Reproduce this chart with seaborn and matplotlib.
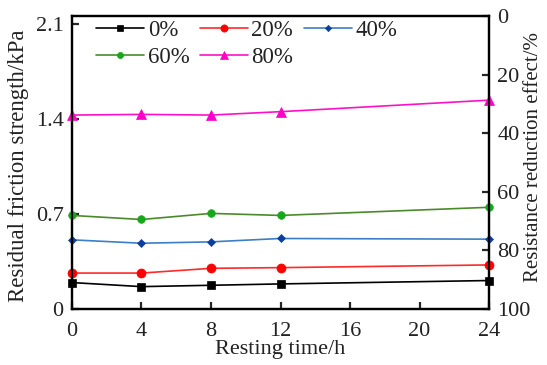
import numpy as np
import pandas as pd
import seaborn as sns
import matplotlib
matplotlib.use('Agg')
import matplotlib.pyplot as plt

# resting time (h) and residual friction strength (kPa) per content level
hours = [0, 4, 8, 12, 24]
s0 = [0.195, 0.165, 0.175, 0.185, 0.21]
s20 = [0.265, 0.265, 0.30, 0.305, 0.325]
s40 = [0.51, 0.485, 0.495, 0.52, 0.515]
s60 = [0.69, 0.66, 0.705, 0.69, 0.75]
s80 = [1.43, 1.435, 1.43, 1.455, 1.54]
labels = ['0%', '20%', '40%', '60%', '80%']

xticks = [0, 4, 8, 12, 16, 20, 24]
yticks = [0, 0.7, 1.4, 2.1]
rticks = [0, 20, 40, 60, 80, 100]

sns.set_theme(style='ticks')
plt.rcParams['font.family'] = ['Liberation Serif', 'DejaVu Serif']
plt.rcParams['font.size'] = 16

fig = plt.figure(figsize=(5.47, 3.65), dpi=100)
ax = fig.add_axes([0.1316, 0.1534, 0.7624, 0.8026])

# (values, line colour, marker, marker colour, marker size)
styles = [
    (s0, 'black', 's', 'black', 6),
    (s20, '#ff2a2a', 'o', '#ff0000', 6.5),
    (s40, '#3d7fc6', 'D', '#0b3f9c', 4),
    (s60, '#4b8a2c', 'o', '#16a81a', 5.5),
    (s80, '#ff10c8', '^', '#ff00c8', 6.5),
]

handles = []
for (vals, lc, mk, mc, ms), lab in zip(styles, labels):
    df = pd.DataFrame({'t': hours, 'v': vals})
    sns.lineplot(data=df, x='t', y='v', ax=ax, color=lc, marker=mk,
                 markersize=ms, markeredgecolor=mc, markeredgewidth=0.5,
                 linewidth=1.2, label=lab, clip_on=False, zorder=3)
    line = ax.lines[-1]
    line.set_markerfacecolor(mc)
    handles.append(line)

ax.set_xlim(0, 24)
ax.set_ylim(0, 2.16)
ax.set_xticks(xticks)
ax.set_yticks(yticks)
ax.set_yticklabels(['0', '0.7', '1.4', '2.1'])
ax.set_xlabel('Resting time/h', fontsize=16, color='#222222')
ax.set_ylabel('Residual friction strength/kPa', fontsize=16.4, color='#222222')
ax.xaxis.set_label_coords(0.5, -0.105)
ax.yaxis.set_label_coords(-0.104, 0.49)

ax2 = ax.twinx()
ax2.set_position(ax.get_position())
ax2.set_ylim(100, 0)
ax2.set_yticks(rticks)
ax2.set_ylabel('Resistance reduction effect/%', fontsize=15, color='#222222')
ax2.yaxis.set_label_coords(1.084, 0.52)

for a in (ax, ax2):
    for sp in a.spines.values():
        sp.set_linewidth(1.6)
        sp.set_color('black')
    a.tick_params(direction='in', length=5, width=1.6, labelsize=16,
                  labelcolor='#222222', pad=6)
ax.tick_params(axis='x', pad=9)
ax2.tick_params(axis='y', left=False, right=True)
ax.tick_params(axis='y', right=False)

order = [0, 3, 1, 4, 2]
leg = ax.legend([handles[i] for i in order], [labels[i] for i in order],
                ncol=3, loc='upper left', bbox_to_anchor=(0.058, 0.985),
                frameon=False, fontsize=16.5, handlelength=2.1,
                handletextpad=0.15, columnspacing=0.45, labelspacing=0.25,
                borderpad=0, borderaxespad=0, markerscale=0.8)
for t in leg.get_texts():
    t.set_color('#222222')

fig.savefig('out.png', dpi=100)
